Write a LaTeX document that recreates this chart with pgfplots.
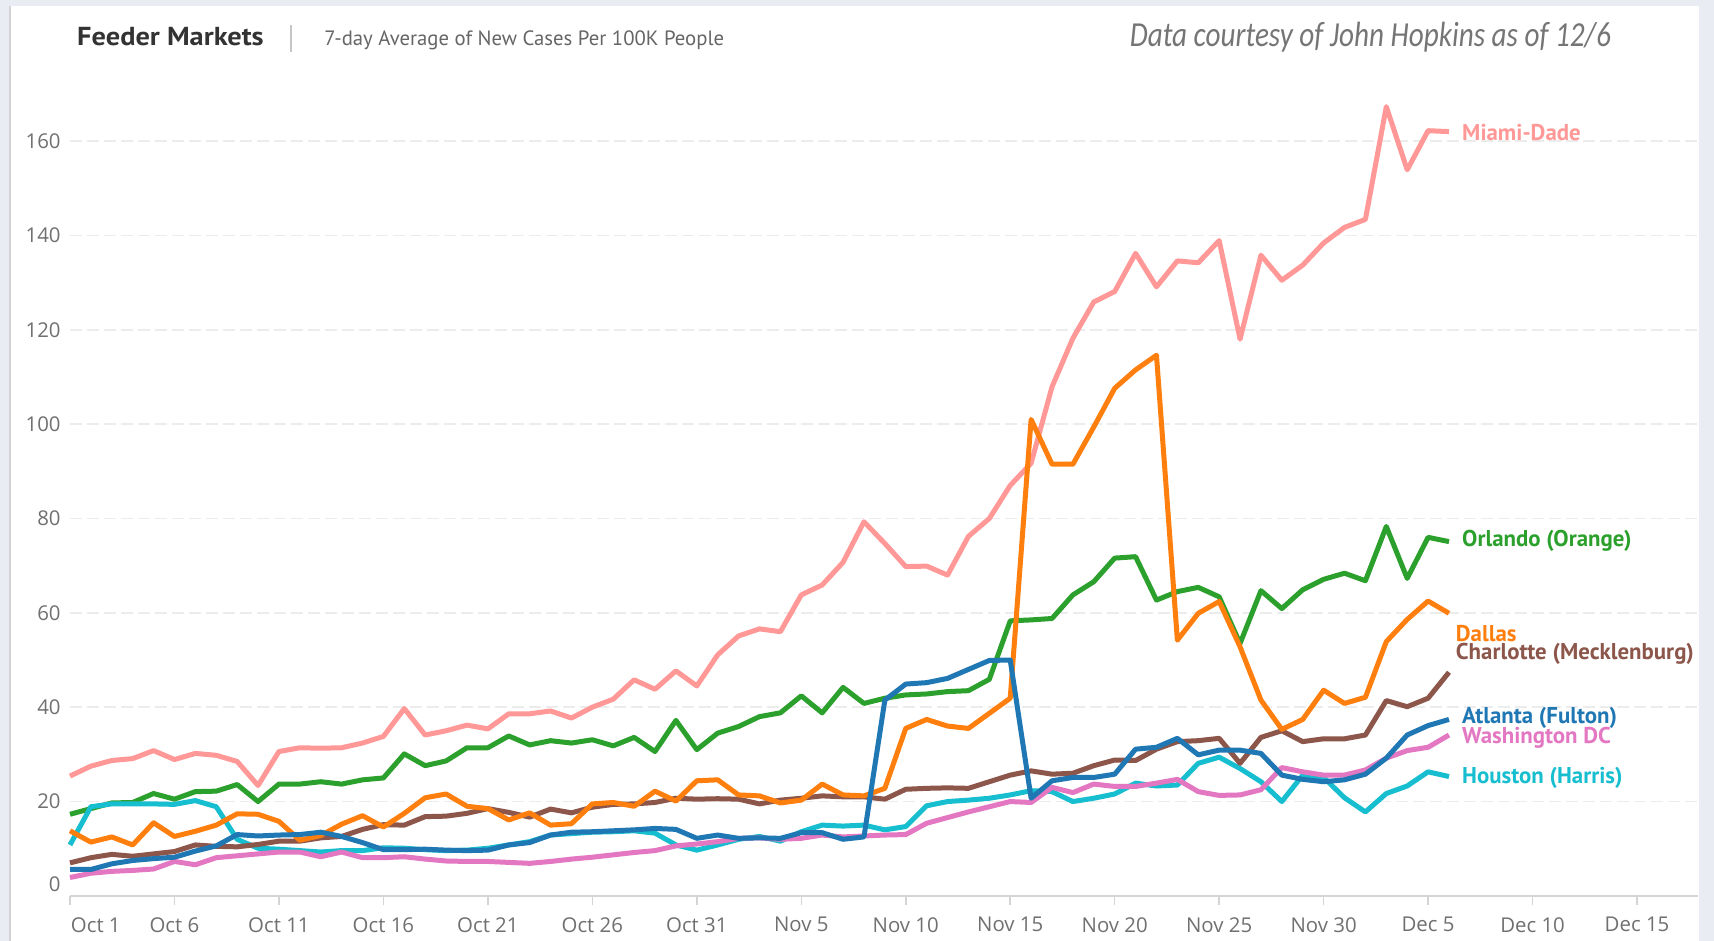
\documentclass[border=0pt]{standalone}
\usepackage{graphicx}
\usepackage{pgfplots}
\pgfplotsset{compat=1.18}
\usepackage{pgfplotstable}
\usepackage{fontspec}
\setmainfont{PT Sans}
\newfontfamily\tickfont{Open Sans}
\newfontfamily\notefont{Carlito}

\definecolor{miami}{HTML}{FF9896}
\definecolor{orlando}{HTML}{2CA02C}
\definecolor{dallas}{HTML}{FF7F0E}
\definecolor{charlotte}{HTML}{8C564B}
\definecolor{atlanta}{HTML}{1F77B4}
\definecolor{dc}{HTML}{E377C2}
\definecolor{houston}{HTML}{17BECF}
\definecolor{bgcol}{HTML}{E9EDF3}
\definecolor{titlecol}{HTML}{333333}
\definecolor{subcol}{HTML}{666666}
\definecolor{notecol}{HTML}{757575}
\definecolor{tickcol}{HTML}{707070}
\definecolor{axiscol}{HTML}{D4D4D4}
\definecolor{gridcol}{HTML}{ECECEC}

% day 0 = Oct 1
\pgfplotstableread{
d miami orlando dallas charlotte atlanta dc houston
0 25.4 17.3 13.8 7.0 5.6 3.9 10.8
1 27.5 18.5 11.4 8.1 5.6 4.8 18.9
2 28.7 19.7 12.5 8.8 6.8 5.2 19.5
3 29.1 19.8 10.8 8.4 7.5 5.4 19.5
4 30.8 21.7 15.5 8.9 7.9 5.7 19.5
5 28.9 20.5 12.6 9.4 8.2 7.3 19.4
6 30.2 22.1 13.7 10.8 9.5 6.6 20.2
7 29.8 22.2 15.0 10.5 10.6 8.1 18.9
8 28.5 23.6 17.4 10.4 13.0 8.5 12.0
9 23.4 20.0 17.3 10.9 12.7 8.9 10.1
10 30.6 23.7 15.8 11.6 12.9 9.3 9.9
11 31.4 23.7 11.8 11.6 13.0 9.3 9.6
12 31.3 24.2 12.8 12.3 13.5 8.3 9.3
13 31.4 23.7 15.2 12.6 12.6 9.3 9.6
14 32.4 24.6 17.0 14.1 11.3 8.1 9.6
15 33.8 25.0 14.6 15.1 9.8 8.1 10.2
16 39.7 30.1 17.5 15.0 9.8 8.3 10.1
17 34.1 27.6 20.8 16.8 9.9 7.8 9.8
18 35.0 28.6 21.6 16.9 9.7 7.4 9.6
19 36.2 31.4 19.0 17.5 9.6 7.3 9.7
20 35.4 31.4 18.5 18.5 9.7 7.3 10.1
21 38.6 33.9 16.1 17.7 10.8 7.1 10.8
22 38.6 32.0 17.6 16.7 11.3 6.9 11.5
23 39.2 32.9 15.0 18.4 12.9 7.3 12.9
24 37.7 32.4 15.3 17.6 13.5 7.8 13.2
25 40.0 33.1 19.5 18.8 13.6 8.2 13.5
26 41.7 31.8 19.8 19.4 13.8 8.7 13.6
27 45.8 33.6 19.0 19.5 14.0 9.2 13.8
28 43.8 30.6 22.2 19.8 14.3 9.6 13.3
29 47.7 37.2 20.1 20.7 14.1 10.6 10.8
30 44.5 31.0 24.4 20.5 12.2 11.0 9.7
31 51.1 34.5 24.6 20.6 12.9 11.5 10.8
32 55.1 35.9 21.4 20.5 12.2 12.2 12.0
33 56.6 38.0 21.2 19.5 12.3 12.3 12.6
34 56.0 38.8 19.7 20.3 12.2 12.0 11.6
35 63.8 42.4 20.3 20.7 13.4 12.2 13.6
36 65.9 38.8 23.7 21.2 13.4 12.9 15.0
37 70.7 44.2 21.4 21.0 12.0 12.5 14.8
38 79.3 40.8 21.2 21.0 12.5 12.7 15.0
39 74.7 41.9 22.8 20.5 41.5 12.9 14.0
40 69.8 42.6 35.5 22.6 44.9 13.0 14.7
41 69.9 42.8 37.4 22.8 45.2 15.4 19.1
42 68.0 43.3 36.0 22.9 46.1 16.6 20.0
43 76.2 43.5 35.5 22.8 48.0 17.8 20.3
44 80.0 45.9 38.7 24.2 49.9 18.9 20.7
45 87.0 58.3 41.9 25.6 50.0 20.0 21.4
46 91.7 58.5 101.0 26.5 20.7 19.8 22.3
47 107.9 58.8 91.5 25.8 24.4 23.0 22.1
48 118.2 63.8 91.5 26.0 25.1 21.9 20.0
49 125.9 66.6 99.4 27.6 25.1 23.7 20.7
50 128.1 71.6 107.6 28.8 25.8 23.2 21.6
51 136.2 71.9 111.5 28.7 31.1 23.2 23.9
52 129.1 62.7 114.6 31.1 31.5 23.9 23.3
53 134.6 64.5 54.2 32.7 33.4 24.7 23.5
54 134.2 65.4 59.9 32.9 29.9 22.1 28.1
55 138.9 63.4 62.4 33.4 30.9 21.3 29.4
56 118.0 53.5 52.8 28.1 30.9 21.4 27.0
57 135.8 64.7 41.5 33.6 30.2 22.5 24.2
58 130.5 60.9 35.3 35.0 25.6 27.2 20.0
59 133.7 64.9 37.4 32.7 24.7 26.3 25.6
60 138.4 67.1 43.6 33.3 24.2 25.6 25.1
61 141.7 68.4 40.8 33.3 24.6 25.6 20.8
62 143.4 66.8 42.1 34.1 25.8 26.7 17.8
63 167.3 78.3 53.9 41.4 29.2 29.2 21.7
64 153.9 67.3 58.6 40.1 34.1 30.8 23.3
65 162.2 76.0 62.5 41.9 36.1 31.5 26.3
66 162.0 75.1 59.9 47.4 37.4 34.1 25.3
}\cases

\begin{document}
\begin{tikzpicture}
% panel background
\fill[bgcol] (0,0) rectangle (171.4mm,94.1mm);
\fill[white] (1.0mm,0) rectangle (169.9mm,93.5mm);
\draw[gray!35, line width=0.2mm] (1.0mm,0) -- (1.0mm,93.5mm);

% header
\node[anchor=base west, inner sep=0, text=titlecol] at (7.65mm,89.53mm)
      {\scalebox{1.09}[1]{\fontsize{7.4}{9}\selectfont\bfseries Feeder Markets}};
\draw[gray!45, line width=0.15mm] (29.1mm,88.9mm) -- (29.1mm,91.6mm);
\node[anchor=base west, inner sep=0, text=subcol,
      font=\fontsize{5.9}{7}\selectfont] at (32.36mm,89.53mm) {7-day Average of New Cases Per 100K People};
\node[anchor=base east, inner sep=0, text=notecol] at (161.16mm,89.4mm)
      {\scalebox{0.83}[1]{\notefont\itshape\fontsize{10}{12}\selectfont Data courtesy of John Hopkins as of 12/6}};

\begin{axis}[
    at={(7mm,4.51mm)}, anchor=south west,
    scale only axis, width=162.76mm, height=82.56mm,
    xmin=0, xmax=77.9, ymin=0, ymax=175,
    axis lines*=left,
    x axis line style={draw=axiscol, line width=0.2mm, -},
    y axis line style={draw=none},
    xtick={5,10,...,75},
    xticklabels={Oct 6,Oct 11,Oct 16,Oct 21,Oct 26,Oct 31,Nov 5,Nov 10,Nov 15,Nov 20,Nov 25,Nov 30,Dec 5,Dec 10,Dec 15},
    extra x ticks={0}, extra x tick labels={Oct 1},
    extra x tick style={xticklabel style={anchor=north west, xshift=-1.15mm}},
    ytick={20,40,...,160},
    extra y ticks={0}, extra y tick labels={0},
    extra y tick style={grid=none, yticklabel style={yshift=1.2mm}},
    yticklabel style={xshift=1.2mm},
    /pgf/number format/assume math mode=true,
    ymajorgrids,
    major grid style={draw=gridcol, line width=0.15mm, dash pattern=on 1.2mm off 0.5mm},
    tick label style={font=\tickfont\fontsize{5.8}{7}\selectfont, text=tickcol},
    xtick style={draw=axiscol, line width=0.15mm},
    ytick style={draw=none},
    tick align=outside, major tick length=0.9mm,
    clip=false,
    every axis plot/.append style={line width=0.5mm, line join=round},
]
\addplot[miami] table[x=d, y=miami] {\cases};
\addplot[orlando] table[x=d, y=orlando] {\cases};
\addplot[houston] table[x=d, y=houston] {\cases};
\addplot[dc] table[x=d, y=dc] {\cases};
\addplot[charlotte] table[x=d, y=charlotte] {\cases};
\addplot[dallas] table[x=d, y=dallas] {\cases};
\addplot[atlanta] table[x=d, y=atlanta] {\cases};

\begin{scope}[every node/.style={anchor=west, inner sep=0, font=\fontsize{6.5}{8}\selectfont\bfseries}]
\node[text=miami] at (axis cs:66.6,161.9) {Miami-Dade};
\node[text=orlando] at (axis cs:66.6,75.2) {Orlando (Orange)};
\node[text=dallas] at (axis cs:66.3,55.6) {Dallas};
\node[text=charlotte] at (axis cs:66.3,51.2) {Charlotte (Mecklenburg)};
\node[text=atlanta] at (axis cs:66.6,37.7) {Atlanta (Fulton)};
\node[text=dc] at (axis cs:66.6,33.5) {Washington DC};
\node[text=houston] at (axis cs:66.6,25.0) {Houston (Harris)};
\end{scope}
\end{axis}
\pgfresetboundingbox
\useasboundingbox (0,0) rectangle (171.4mm,94.1mm);
\end{tikzpicture}
\end{document}
